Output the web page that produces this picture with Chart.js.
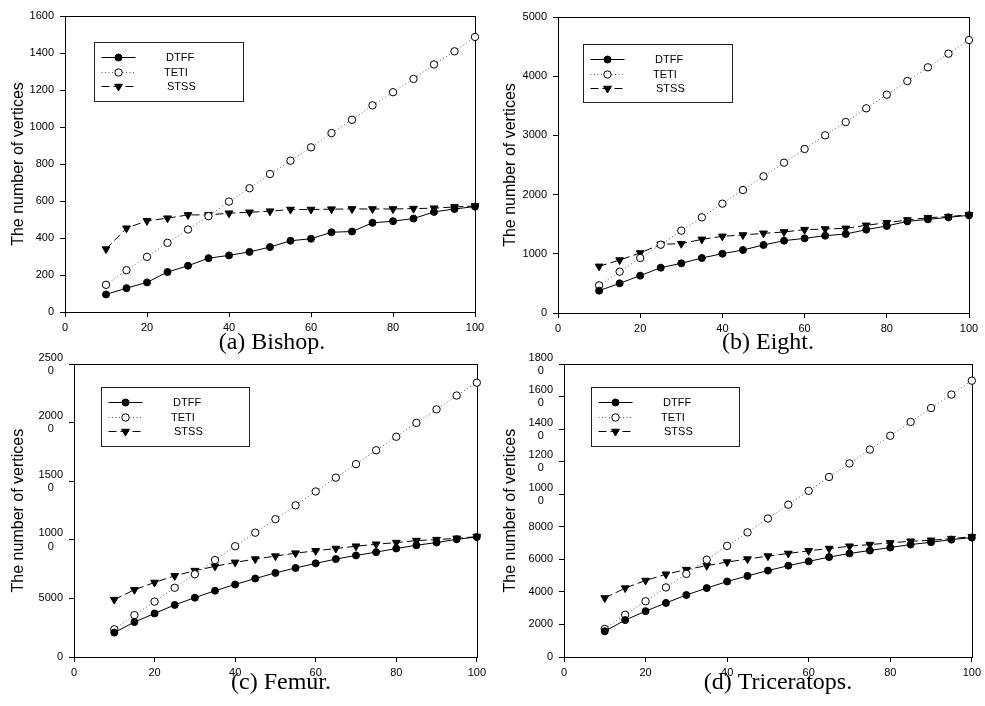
<!DOCTYPE html>
<html>
<head>
<meta charset="utf-8">
<script src="https://cdn.jsdelivr.net/npm/chart.js@4.4.1/dist/chart.umd.min.js"></script>
<style>
html,body{margin:0;padding:0;background:#fff;}
#wrap{position:relative;width:985px;height:706px;overflow:hidden;background:#fff;}
canvas{position:absolute;}
</style>
</head>
<body>
<div id="wrap">
<canvas id="ca"></canvas>
<canvas id="cb"></canvas>
<canvas id="cc"></canvas>
<canvas id="cd"></canvas>
</div>
<script>
// ---------- DATA ----------
const seriesNames = ['DTFF', 'TETI', 'STSS'];
const xValues = [10,15,20,25,30,35,40,45,50,55,60,65,70,75,80,85,90,95,100];
const xTicks = [0,20,40,60,80,100];

const bishopDTFF = [95,129,160,216,250,291,306,325,351,385,396,431,435,482,491,505,541,557,570];
const bishopTETI = [147,226,298,374,446,518,597,669,746,818,890,967,1039,1117,1188,1260,1338,1409,1487];
const bishopSTSS = [340,453,493,507,525,525,534,539,545,554,554,556,557,557,557,559,561,568,573];
const bishopYTicks = [0,200,400,600,800,1000,1200,1400,1600];

const eightDTFF = [377,501,631,766,839,929,1002,1064,1149,1222,1261,1306,1334,1408,1470,1548,1582,1616,1650];
const eightTETI = [467,698,929,1154,1391,1616,1847,2078,2309,2539,2770,3001,3226,3457,3688,3919,4150,4381,4611];
const eightSTSS = [788,895,1014,1160,1171,1244,1295,1318,1346,1368,1408,1419,1430,1481,1526,1571,1610,1627,1661];
const eightYTicks = [0,1000,2000,3000,4000,5000];

const femurDTFF = [2083,2984,3716,4448,5068,5659,6194,6700,7179,7601,7995,8361,8671,8953,9262,9544,9769,10051,10248];
const femurTETI = [2365,3575,4730,5912,7066,8277,9459,10614,11768,12950,14133,15315,16470,17652,18806,19989,21143,22326,23423];
const femurSTSS = [4899,5743,6363,6926,7376,7742,8080,8361,8615,8868,9065,9262,9459,9628,9769,9938,10023,10135,10276];
const femurYTicks = [0,5000,10000,15000,20000,25000];

const triDTFF = [1581,2270,2818,3324,3811,4237,4642,4987,5311,5615,5879,6142,6365,6548,6730,6913,7054,7216,7338];
const triTETI = [1723,2595,3426,4277,5108,5980,6831,7662,8514,9365,10216,11068,11899,12750,13602,14453,15304,16135,16987];
const triSTSS = [3628,4237,4703,5088,5372,5615,5838,6021,6203,6365,6527,6669,6811,6912,7014,7115,7176,7277,7399];
const triYTicks = [0,2000,4000,6000,8000,10000,12000,14000,16000,18000];

const captions = ['(a) Bishop.', '(b) Eight.', '(c) Femur.', '(d) Triceratops.'];
const yTitle = 'The number of vertices';

// ---------- LAYOUT (page px) ----------
const panels = [
  {id:'ca', cv:[0,0,490,360], area:[65,16,475,312], cap:[272,343], leg:[94,42,243,101], titlePad:9,
   series:[bishopDTFF,bishopTETI,bishopSTSS], yTicks:bishopYTicks, caption:captions[0]},
  {id:'cb', cv:[490,0,495,360], area:[558,17,969,313], cap:[768,343], leg:[583,44,732,102], titlePad:11,
   series:[eightDTFF,eightTETI,eightSTSS], yTicks:eightYTicks, caption:captions[1]},
  {id:'cc', cv:[0,345,490,361], area:[74,361,484,657], cap:[281,683], leg:[101,387,249,446], titlePad:9,
   series:[femurDTFF,femurTETI,femurSTSS], yTicks:femurYTicks, caption:captions[2]},
  {id:'cd', cv:[490,345,495,361], area:[564,361,975,657], cap:[778,683], leg:[591,387,739,446], titlePad:11,
   series:[triDTFF,triTETI,triSTSS], yTicks:triYTicks, caption:captions[3]}
];

const FONT = 'Liberation Sans, Arial, sans-serif';
const SERIF = 'Liberation Serif, Times New Roman, serif';

const styles = [
  {borderColor:'#000', borderDash:[], pointStyle:'circle', pointRadius:3.5, pointBackgroundColor:'#000', pointRotation:0},
  {borderColor:'#555', borderDash:[1,2.5], pointStyle:'circle', pointRadius:3.7, pointBackgroundColor:'#fff', pointRotation:0},
  {borderColor:'#000', borderDash:[8,4], pointStyle:'triangle', pointRadius:4.5, pointBackgroundColor:'#000', pointRotation:180}
];

function tickLabel(v){
  const s = String(v);
  if (s.length > 4) return [s.slice(0,4), s.slice(4) + '\u2007 '];
  return s;
}

function drawMarker(ctx, st, x, y){
  ctx.save();
  ctx.setLineDash([]);
  ctx.lineWidth = 1;
  ctx.strokeStyle = '#000';
  ctx.fillStyle = st.pointBackgroundColor;
  ctx.beginPath();
  if (st.pointStyle === 'triangle'){
    const r = st.pointRadius;
    let rad = Math.PI;
    ctx.moveTo(x + Math.sin(rad)*r, y - Math.cos(rad)*r);
    rad += 2*Math.PI/3;
    ctx.lineTo(x + Math.sin(rad)*r, y - Math.cos(rad)*r);
    rad += 2*Math.PI/3;
    ctx.lineTo(x + Math.sin(rad)*r, y - Math.cos(rad)*r);
    ctx.closePath();
  } else {
    ctx.arc(x, y, st.pointRadius, 0, Math.PI*2);
  }
  ctx.fill();
  ctx.stroke();
  ctx.restore();
}

panels.forEach(p => {
  const [cl, ct, cw, ch] = p.cv;
  const [L, T, R, B] = p.area;
  const canvas = document.getElementById(p.id);
  canvas.width = cw; canvas.height = ch;
  canvas.style.left = cl + 'px'; canvas.style.top = ct + 'px';
  canvas.style.width = cw + 'px'; canvas.style.height = ch + 'px';
  const xAxisH = 25;

  const datasets = p.series.map((vals, i) => Object.assign({
    label: seriesNames[i],
    data: xValues.map((x, k) => ({x: x, y: vals[k]})),
    borderWidth: 1,
    pointBorderColor: '#000',
    pointBorderWidth: 1,
    tension: 0,
    fill: false,
    clip: false
  }, styles[i]));

  const framePlugin = {
    id: 'frame',
    beforeDatasetsDraw(chart){
      const a = chart.chartArea, c = chart.ctx;
      c.save();
      c.strokeStyle = '#000'; c.lineWidth = 1;
      c.strokeRect(Math.round(a.left)+0.5, Math.round(a.top)+0.5, Math.round(a.right-a.left), Math.round(a.bottom-a.top));
      c.restore();
    }
  };

  const extrasPlugin = {
    id: 'extras',
    afterDraw(chart){
      const c = chart.ctx;
      // legend box
      const [lx0, ly0, lx1, ly1] = p.leg.map((v, k) => v - (k % 2 === 0 ? cl : ct));
      c.save();
      c.fillStyle = '#fff';
      c.fillRect(lx0, ly0, lx1-lx0, ly1-ly0);
      c.strokeStyle = '#222'; c.lineWidth = 1;
      c.strokeRect(Math.round(lx0)+0.5, Math.round(ly0)+0.5, Math.round(lx1-lx0), Math.round(ly1-ly0));
      const rowOff = [15, 29.5, 44];
      const txtOff = [72, 70, 73];
      seriesNames.forEach((name, i) => {
        const st = styles[i];
        const y = Math.round(ly0 + rowOff[i]) + 0.5;
        c.save();
        c.strokeStyle = st.borderColor; c.lineWidth = 1;
        c.setLineDash(st.borderDash);
        c.beginPath(); c.moveTo(lx0 + 7.5, y); c.lineTo(lx0 + 41.5, y); c.stroke();
        c.restore();
        drawMarker(c, st, lx0 + 24.5, y);
        c.fillStyle = '#000';
        c.font = '11px ' + FONT;
        c.textAlign = 'left'; c.textBaseline = 'middle';
        c.fillText(name, lx0 + txtOff[i], y);
      });
      // caption
      c.fillStyle = '#000';
      c.font = '24px ' + SERIF;
      c.textAlign = 'center'; c.textBaseline = 'middle';
      c.fillText(p.caption, p.cap[0] - cl, p.cap[1] - ct);
      c.restore();
    }
  };

  new Chart(canvas, {
    type: 'line',
    data: {datasets},
    options: {
      responsive: false,
      animation: false,
      devicePixelRatio: 1,
      layout: {padding: {left: 0, top: T - ct, right: cl + cw - R, bottom: ct + ch - B - xAxisH}},
      plugins: {legend: {display: false}, tooltip: {enabled: false}},
      scales: {
        x: {
          type: 'linear',
          min: xTicks[0], max: xTicks[xTicks.length-1],
          afterBuildTicks: s => { s.ticks = xTicks.map(v => ({value: v})); },
          afterFit: s => { s.height = xAxisH; },
          ticks: {color:'#000', font:{family:FONT, size:11}, padding:4, maxRotation:0, autoSkip:false},
          grid: {display:true, drawOnChartArea:false, drawTicks:true, tickLength:5, color:'#000'},
          border: {display:true, color:'#000', width:1}
        },
        y: {
          type: 'linear',
          min: p.yTicks[0], max: p.yTicks[p.yTicks.length-1],
          afterBuildTicks: s => { s.ticks = p.yTicks.map(v => ({value: v})); },
          afterFit: s => { s.width = L - cl; },
          ticks: {color:'#000', font:{family:FONT, size:11}, padding:6, autoSkip:false, callback: tickLabel},
          grid: {display:true, drawOnChartArea:false, drawTicks:true, tickLength:5, color:'#000'},
          border: {display:true, color:'#000', width:1},
          title: {display:true, text:yTitle, color:'#000', font:{family:FONT, size:16}, padding:{top:p.titlePad, bottom:0}}
        }
      }
    },
    plugins: [framePlugin, extrasPlugin]
  });
});
</script>
</body>
</html>
